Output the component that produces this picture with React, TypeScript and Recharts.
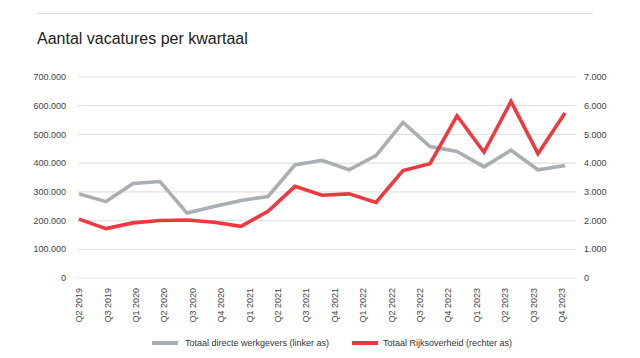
import { LineChart, Line, XAxis, YAxis, CartesianGrid } from "recharts";

// 19 quarters of data; the axis shows 18 labels (Q4 2019 is not labelled)
const quarters = [
  "Q2 2019", "Q3 2019", "Q4 2019", "Q1 2020", "Q2 2020", "Q3 2020", "Q4 2020",
  "Q1 2021", "Q2 2021", "Q3 2021", "Q4 2021", "Q1 2022", "Q2 2022", "Q3 2022",
  "Q4 2022", "Q1 2023", "Q2 2023", "Q3 2023", "Q4 2023",
];
const tickLabels = [
  "Q2 2019", "Q3 2019", "Q1 2020", "Q2 2020", "Q3 2020", "Q4 2020", "Q1 2021",
  "Q2 2021", "Q3 2021", "Q4 2021", "Q1 2022", "Q2 2022", "Q3 2022", "Q4 2022",
  "Q1 2023", "Q2 2023", "Q3 2023", "Q4 2023",
];
const werkgevers = [
  293000, 266000, 329000, 336000, 226000, 249000, 270000, 284000, 394000, 410000,
  377000, 426000, 542000, 458000, 441000, 387000, 445000, 377000, 392000,
];
const rijksoverheid = [
  2050, 1720, 1920, 2000, 2020, 1940, 1800, 2320, 3190, 2880,
  2930, 2630, 3740, 3980, 5650, 4380, 6150, 4330, 5750,
];
const leftTicks = [0, 100000, 200000, 300000, 400000, 500000, 600000, 700000];
const rightTicks = [0, 1000, 2000, 3000, 4000, 5000, 6000, 7000];

const GRAY = "#a9aeb3";
const RED = "#ec3a40";
const FONT = "'Liberation Sans', Arial, sans-serif";

const data = quarters.map((q, i) => ({
  quarter: q,
  werkgevers: werkgevers[i],
  rijk: rijksoverheid[i],
}));
const labelRows = tickLabels.map((l) => ({ label: l }));

const fmt = (v: number) => String(v).replace(/\B(?=(\d{3})+(?!\d))/g, ".");

const RotTick = (props: any) => {
  const { x, y, payload } = props;
  return (
    <text
      x={x}
      y={y}
      transform={`rotate(-90, ${x}, ${y})`}
      textAnchor="end"
      dy="0.35em"
      fontSize={9}
      fontFamily={FONT}
      fill="#444"
    >
      {payload.value}
    </text>
  );
};

export default function App() {
  return (
    <div style={{ position: "absolute", left: 0, top: 0, width: 640, height: 358, background: "#fff", fontFamily: FONT }}>
      <div style={{ position: "absolute", left: 37, top: 13, width: 556, height: 0, borderTop: "1.5px solid #dedede" }} />
      <div style={{ position: "absolute", left: 37, top: 31, fontSize: 16, lineHeight: "16px", color: "#222" }}>
        Aantal vacatures per kwartaal
      </div>
      <div style={{ position: "absolute", left: 0, top: 0 }}>
        <LineChart width={640} height={358} data={data} margin={{ top: 77, right: 0, left: 0, bottom: 80 }}>
          <CartesianGrid vertical={false} stroke="#e2e2e2" strokeWidth={1.2} yAxisId="left" xAxisId="q" />
          <XAxis xAxisId="q" dataKey="quarter" hide padding={{ left: 1, right: 11 }} />
          <YAxis
            yAxisId="left"
            width={78}
            domain={[0, 700000]}
            ticks={leftTicks}
            tickFormatter={fmt}
            axisLine={false}
            tickLine={false}
            tickSize={0}
            tickMargin={12}
            tick={{ fontSize: 9, fill: "#444", fontFamily: FONT }}
          />
          <YAxis
            yAxisId="right"
            orientation="right"
            width={64}
            domain={[0, 7000]}
            ticks={rightTicks}
            tickFormatter={fmt}
            axisLine={false}
            tickLine={false}
            tickSize={0}
            tickMargin={8}
            tick={{ fontSize: 9, fill: "#444", fontFamily: FONT, textAnchor: "start" }}
          />
          <Line
            xAxisId="q"
            yAxisId="left"
            dataKey="werkgevers"
            stroke={GRAY}
            strokeWidth={3.6}
            dot={false}
            strokeLinejoin="miter"
            isAnimationActive={false}
          />
          <Line
            xAxisId="q"
            yAxisId="right"
            dataKey="rijk"
            stroke={RED}
            strokeWidth={3.6}
            dot={false}
            strokeLinejoin="miter"
            isAnimationActive={false}
          />
        </LineChart>
      </div>
      {/* category labels sit on their own axis, spaced differently from the data points */}
      <div style={{ position: "absolute", left: 0, top: 0, pointerEvents: "none" }}>
        <LineChart width={640} height={358} data={labelRows} margin={{ top: 77, right: 64, left: 78, bottom: 0 }}>
          <XAxis
            dataKey="label"
            interval={0}
            height={80}
            padding={{ left: 1, right: 14 }}
            axisLine={false}
            tickLine={false}
            tickSize={0}
            tickMargin={10}
            tick={<RotTick />}
          />
          <YAxis hide />
        </LineChart>
      </div>
      <div style={{ position: "absolute", left: 152, top: 336, display: "flex", alignItems: "center", height: 14, fontSize: 9, color: "#333" }}>
        <span style={{ display: "inline-block", width: 26, height: 4, background: GRAY, marginRight: 7 }} />
        Totaal directe werkgevers (linker as)
      </div>
      <div style={{ position: "absolute", left: 352, top: 336, display: "flex", alignItems: "center", height: 14, fontSize: 9, color: "#333" }}>
        <span style={{ display: "inline-block", width: 26, height: 4, background: RED, marginRight: 5 }} />
        Totaal Rijksoverheid (rechter as)
      </div>
    </div>
  );
}
